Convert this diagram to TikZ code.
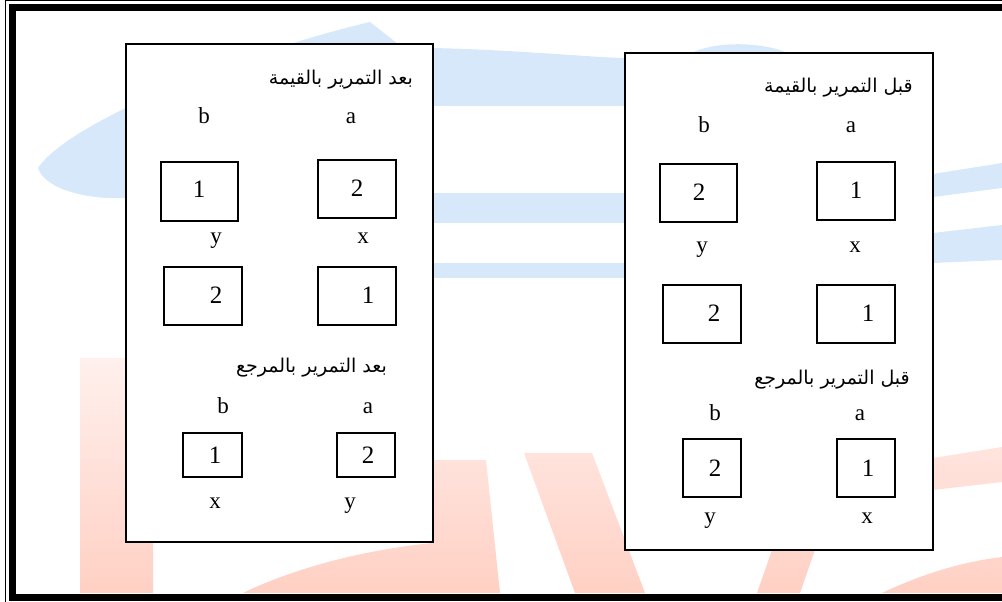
\documentclass[tikz,border=0pt]{standalone}
\usepackage{fontspec}
\setmainfont{Liberation Serif}
\newfontfamily\arabicfont[Script=Arabic]{DejaVu Sans}
\TeXXeTstate=1
\definecolor{wmblue}{RGB}{216,232,251}
\definecolor{wmpinktop}{RGB}{255,240,237}
\definecolor{wmpinkbot}{RGB}{255,208,196}
\begin{document}
\begin{tikzpicture}[x=1pt,y=-1pt,
  panel/.style={draw=black, line width=1.3pt, fill=white, inner sep=0pt},
  cell/.style={draw=black, line width=1.3pt, fill=white, inner sep=0pt},
  lbl/.style={font=\fontsize{23}{25}\selectfont, anchor=base, inner sep=0pt},
  dig/.style={font=\fontsize{25}{27}\selectfont, inner sep=0pt},
  ttl/.style={font=\arabicfont\fontsize{19}{21}\selectfont, anchor=east, inner sep=0pt}]
\useasboundingbox (0,0) rectangle (1002,602);
\clip (0,0) rectangle (1002,602);
% watermark: blue swoosh
\fill[wmblue] (38,168) .. controls (70,120) and (250,50) .. (370,22) -- (398,44) -- (433,48)
  .. controls (520,50) and (600,58) .. (625,58) -- (625,106) -- (433,106) -- (300,150) -- (126,198)
  .. controls (90,200) and (45,190) .. (38,168) -- cycle;
\fill[wmblue] (690,54) .. controls (710,42) and (760,40) .. (790,54) -- cycle;
\fill[wmblue] (433,193) rectangle (625,223);
\fill[wmblue] (433,263) rectangle (625,278);
\fill[wmblue] (933,174) -- (1002,163) -- (1002,188) -- (933,197) -- cycle;
\fill[wmblue] (933,233) -- (1002,225) -- (1002,260) -- (933,263) -- cycle;
% watermark: pink letters
\shade[top color=wmpinktop, bottom color=wmpinkbot]
  (80,358) rectangle (153,593)
  (243,593) .. controls (290,570) and (360,550) .. (433,543) -- (433,593) -- cycle
  (433,460) -- (486,460) -- (500,593) -- (433,593) -- cycle
  (524,453) -- (592,453) -- (645,593) -- (575,593) -- cycle
  (757,593) -- (772,550) -- (815,550) -- (800,593) -- cycle
  (933,458) -- (1002,447) -- (1002,482) -- (933,490) -- cycle
  (882,593) .. controls (920,575) and (960,562) .. (1002,557) -- (1002,593) -- cycle;
% page frame
\draw[line width=1.2pt] (5.5,610) -- (5.5,0.7) -- (1010,0.7);
\draw[line width=7pt] (1010,597.5) -- (12.5,597.5) -- (12.5,7.5) -- (1010,7.5);
% panels
\node[panel, minimum width=307pt, minimum height=498pt] (PL) at (279.5,293) {};
\node[panel, minimum width=308pt, minimum height=497pt] (PR) at (779,301.5) {};
% left panel (after)
\node[ttl] (tL1) at (413,80) {\beginR بعد التمرير بالقيمة\endR};
\node[lbl] (lb1) at (204,123) {b};
\node[lbl] (la1) at (351,123) {a};
\node[cell, minimum width=77pt, minimum height=59pt] (L1) at (199.5,191.5) {};
\node[cell, minimum width=78pt, minimum height=58pt] (L2) at (357,189) {};
\node[dig] (dL1) at (199,189) {1};
\node[dig] (dL2) at (357,188) {2};
\node[lbl] (ly1) at (216,243) {y};
\node[lbl] (lx1) at (363,243) {x};
\node[cell, minimum width=78pt, minimum height=58pt] (L3) at (203,296) {};
\node[cell, minimum width=78pt, minimum height=58pt] (L4) at (357,296) {};
\node[dig] (dL3) at (216,295) {2};
\node[dig] (dL4) at (368,295) {1};
\node[ttl] (tL2) at (387,368) {\beginR بعد التمرير بالمرجع\endR};
\node[lbl] (lb2) at (223,413) {b};
\node[lbl] (la2) at (368,413) {a};
\node[cell, minimum width=59pt, minimum height=44pt] (L5) at (212.5,455) {};
\node[cell, minimum width=58pt, minimum height=44pt] (L6) at (366,455) {};
\node[dig] (dL5) at (215,455) {1};
\node[dig] (dL6) at (368,455) {2};
\node[lbl] (lx2) at (215,508) {x};
\node[lbl] (ly2) at (350,508) {y};
% right panel (before)
\node[ttl] (tR1) at (913,88) {\beginR قبل التمرير بالقيمة\endR};
\node[lbl] (rb1) at (704,132) {b};
\node[lbl] (ra1) at (851,132) {a};
\node[cell, minimum width=77pt, minimum height=58pt] (R1) at (698.5,193) {};
\node[cell, minimum width=78pt, minimum height=58pt] (R2) at (856,191) {};
\node[dig] (dR1) at (699,192) {2};
\node[dig] (dR2) at (856,190) {1};
\node[lbl] (ry1) at (702,252) {y};
\node[lbl] (rx1) at (855,252) {x};
\node[cell, minimum width=78pt, minimum height=58pt] (R3) at (702,314) {};
\node[cell, minimum width=78pt, minimum height=58pt] (R4) at (856,314) {};
\node[dig] (dR3) at (714,313) {2};
\node[dig] (dR4) at (868,313) {1};
\node[ttl] (tR2) at (910,380) {\beginR قبل التمرير بالمرجع\endR};
\node[lbl] (rb2) at (715,420) {b};
\node[lbl] (ra2) at (860,420) {a};
\node[cell, minimum width=58pt, minimum height=58pt] (R5) at (712,468) {};
\node[cell, minimum width=58pt, minimum height=58pt] (R6) at (866,468) {};
\node[dig] (dR5) at (715,468) {2};
\node[dig] (dR6) at (868,468) {1};
\node[lbl] (ry2) at (710,523) {y};
\node[lbl] (rx2) at (867,523) {x};
\end{tikzpicture}
\end{document}
